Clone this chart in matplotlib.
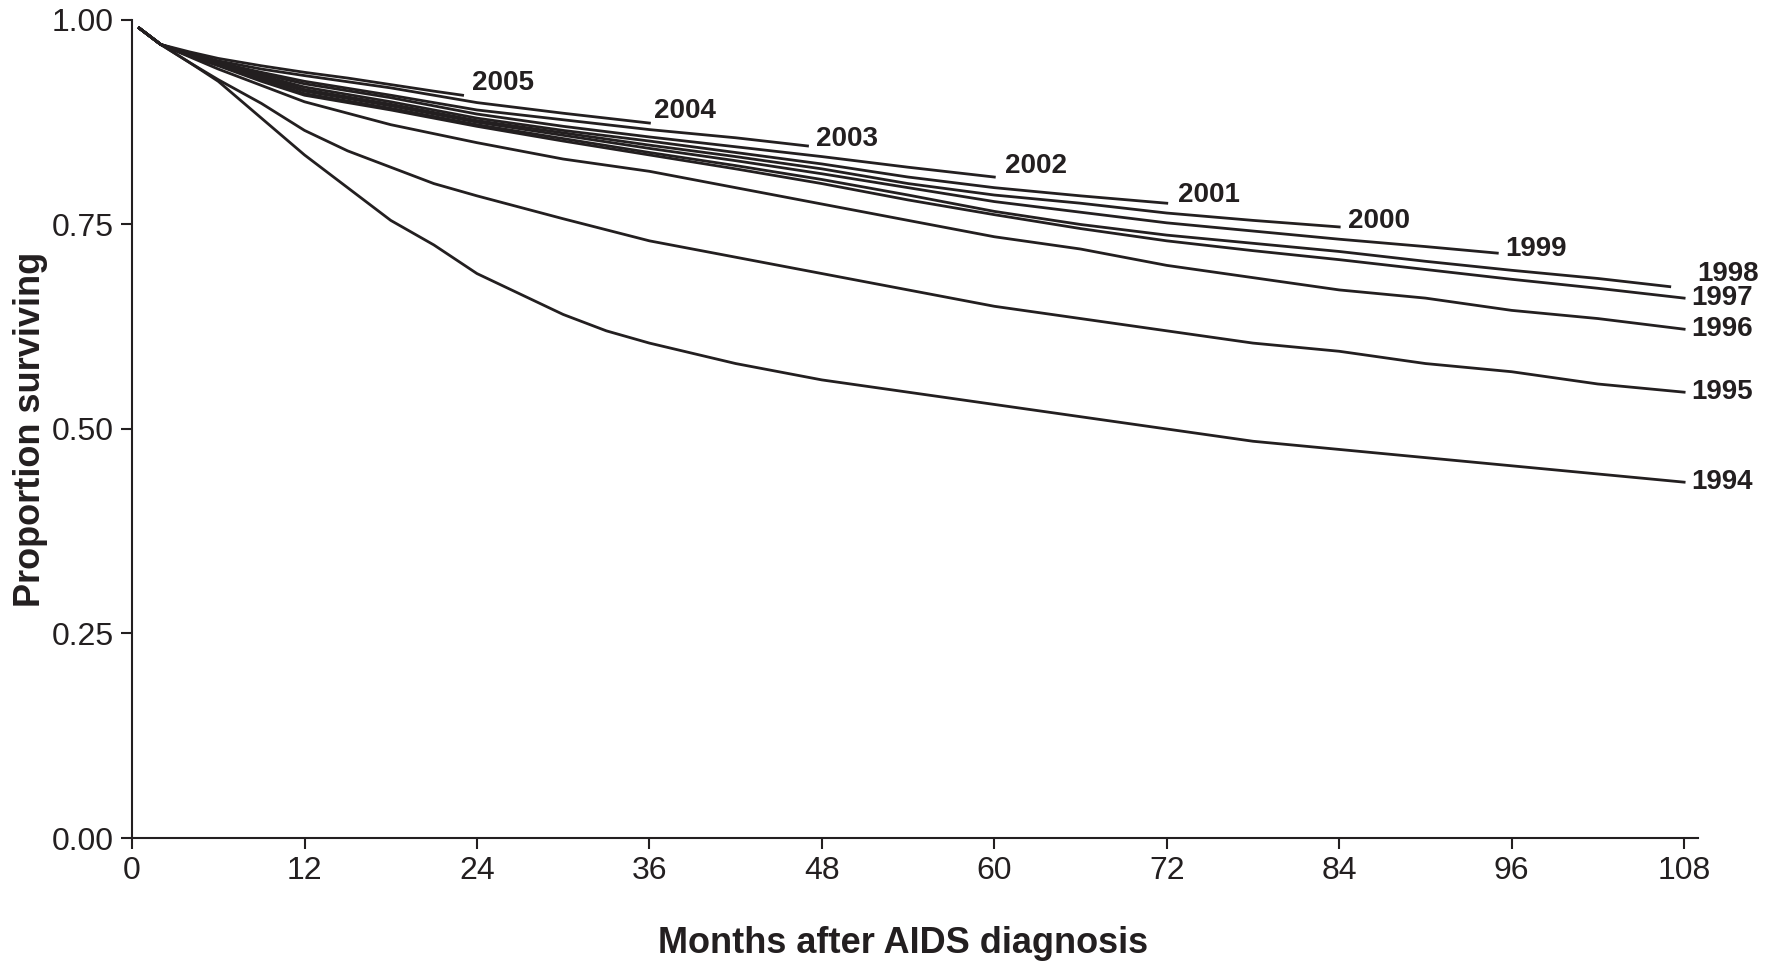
import matplotlib.pyplot as plt
import matplotlib.ticker as mticker

plt.rcParams['font.family'] = ['Liberation Sans', 'DejaVu Sans']

# survival curves by year of AIDS diagnosis
m_1994 = [0.5, 2, 4, 6, 9, 12, 15, 18, 21, 24, 27, 30, 33, 36, 42, 48, 54, 60, 66, 72, 78, 84, 90, 96, 102, 108]
s_1994 = [0.99, 0.97, 0.948, 0.925, 0.88, 0.835, 0.795, 0.755, 0.725, 0.69, 0.665, 0.64, 0.62, 0.605,
          0.58, 0.56, 0.545, 0.53, 0.515, 0.50, 0.485, 0.475, 0.465, 0.455, 0.445, 0.435]

m_1995 = [0.5, 2, 4, 6, 9, 12, 15, 18, 21, 24, 30, 36, 42, 48, 54, 60, 66, 72, 78, 84, 90, 96, 102, 108]
s_1995 = [0.99, 0.97, 0.948, 0.927, 0.898, 0.865, 0.84, 0.82, 0.80, 0.785, 0.757, 0.73, 0.71, 0.69,
          0.67, 0.65, 0.635, 0.62, 0.605, 0.595, 0.58, 0.57, 0.555, 0.545]

m_1996 = [0.5, 2, 4, 6, 9, 12, 18, 24, 30, 36, 42, 48, 54, 60, 66, 72, 78, 84, 90, 96, 102, 108]
s_1996 = [0.99, 0.97, 0.955, 0.94, 0.92, 0.90, 0.872, 0.85, 0.83, 0.815, 0.795, 0.775, 0.755, 0.735,
          0.72, 0.70, 0.685, 0.67, 0.66, 0.645, 0.635, 0.622]

m_1997 = [0.5, 2, 4, 6, 9, 12, 18, 24, 30, 36, 42, 48, 54, 60, 66, 72, 78, 84, 90, 96, 102, 108]
s_1997 = [0.99, 0.97, 0.956, 0.944, 0.925, 0.908, 0.89, 0.87, 0.852, 0.835, 0.818, 0.80, 0.78, 0.762,
          0.745, 0.73, 0.718, 0.707, 0.695, 0.683, 0.672, 0.66]

m_1998 = [0.5, 2, 4, 6, 9, 12, 18, 24, 30, 36, 42, 48, 54, 60, 66, 72, 78, 84, 90, 96, 102, 107]
s_1998 = [0.99, 0.97, 0.956, 0.945, 0.927, 0.91, 0.892, 0.872, 0.855, 0.838, 0.822, 0.805, 0.786, 0.766,
          0.75, 0.737, 0.727, 0.717, 0.705, 0.694, 0.684, 0.674]

m_1999 = [0.5, 2, 4, 6, 9, 12, 18, 24, 30, 36, 42, 48, 54, 60, 66, 72, 78, 84, 90, 95]
s_1999 = [0.99, 0.97, 0.957, 0.946, 0.929, 0.913, 0.895, 0.875, 0.859, 0.843, 0.828, 0.812, 0.795, 0.778,
          0.765, 0.752, 0.742, 0.732, 0.723, 0.715]

m_2000 = [0.5, 2, 4, 6, 9, 12, 18, 24, 30, 36, 42, 48, 54, 60, 66, 72, 78, 84]
s_2000 = [0.99, 0.97, 0.957, 0.947, 0.931, 0.915, 0.897, 0.877, 0.862, 0.847, 0.833, 0.818, 0.80, 0.786,
          0.776, 0.764, 0.755, 0.747]

m_2001 = [0.5, 2, 4, 6, 9, 12, 18, 24, 30, 36, 42, 48, 54, 60, 66, 72]
s_2001 = [0.99, 0.97, 0.957, 0.947, 0.932, 0.918, 0.90, 0.88, 0.865, 0.852, 0.838, 0.824, 0.808, 0.795,
          0.785, 0.776]

m_2002 = [0.5, 2, 4, 6, 9, 12, 18, 24, 30, 36, 42, 48, 54, 60]
s_2002 = [0.99, 0.97, 0.958, 0.948, 0.934, 0.922, 0.905, 0.885, 0.87, 0.857, 0.845, 0.833, 0.82, 0.808]

m_2003 = [0.5, 2, 4, 6, 9, 12, 18, 24, 30, 36, 42, 47]
s_2003 = [0.99, 0.97, 0.958, 0.948, 0.936, 0.925, 0.908, 0.89, 0.878, 0.866, 0.856, 0.846]

m_2004 = [0.5, 2, 4, 6, 9, 12, 18, 24, 30, 36]
s_2004 = [0.99, 0.97, 0.959, 0.95, 0.94, 0.932, 0.917, 0.899, 0.886, 0.874]

m_2005 = [0.5, 2, 4, 6, 9, 12, 15, 18, 21, 23]
s_2005 = [0.99, 0.97, 0.961, 0.953, 0.944, 0.936, 0.929, 0.921, 0.913, 0.908]

years = ['1994', '1995', '1996', '1997', '1998', '1999', '2000', '2001', '2002', '2003', '2004', '2005']
months = [m_1994, m_1995, m_1996, m_1997, m_1998, m_1999, m_2000, m_2001, m_2002, m_2003, m_2004, m_2005]
surv = [s_1994, s_1995, s_1996, s_1997, s_1998, s_1999, s_2000, s_2001, s_2002, s_2003, s_2004, s_2005]

# label offsets (points) from the end of each curve
label_dy = [0, 0, 0, 0, 9, 3, 4, 6, 8, 5, 9, 9]
label_dx = [5, 5, 5, 5, 20, 6, 6, 8, 8, 6, 3, 7]

fig = plt.figure(figsize=(17.75, 9.65), dpi=100)
ax = fig.add_axes([0.0744, 0.1316, 0.8825, 0.8477])

for yr, m, s, dx, dy in zip(years, months, surv, label_dx, label_dy):
    ax.plot(m, s, color='#231f20', lw=2.0, solid_joinstyle='round')
    ax.annotate(yr, xy=(m[-1], s[-1]), xytext=(dx, dy), textcoords='offset points',
                ha='left', va='center', fontsize=20, fontweight='bold', color='#231f20')

ax.set_xlim(0, 109)
ax.set_ylim(0, 1)
ax.set_xticks(range(0, 109, 12))
ax.set_yticks([0, 0.25, 0.5, 0.75, 1.0])
ax.yaxis.set_major_formatter(mticker.FormatStrFormatter('%.2f'))
for side in ['top', 'right']:
    ax.spines[side].set_visible(False)
for side in ['left', 'bottom']:
    ax.spines[side].set_linewidth(1.5)
    ax.spines[side].set_color('#231f20')
ax.tick_params(direction='out', length=8, width=1.5, labelsize=23, colors='#231f20', pad=5)

ax.set_xlabel('Months after AIDS diagnosis', fontsize=26, fontweight='bold', color='#231f20')
ax.xaxis.set_label_coords(0.492, -0.108)
ax.set_ylabel('Proportion surviving', fontsize=26, fontweight='bold', labelpad=3, color='#231f20')

plt.savefig('out.png', dpi=100)
